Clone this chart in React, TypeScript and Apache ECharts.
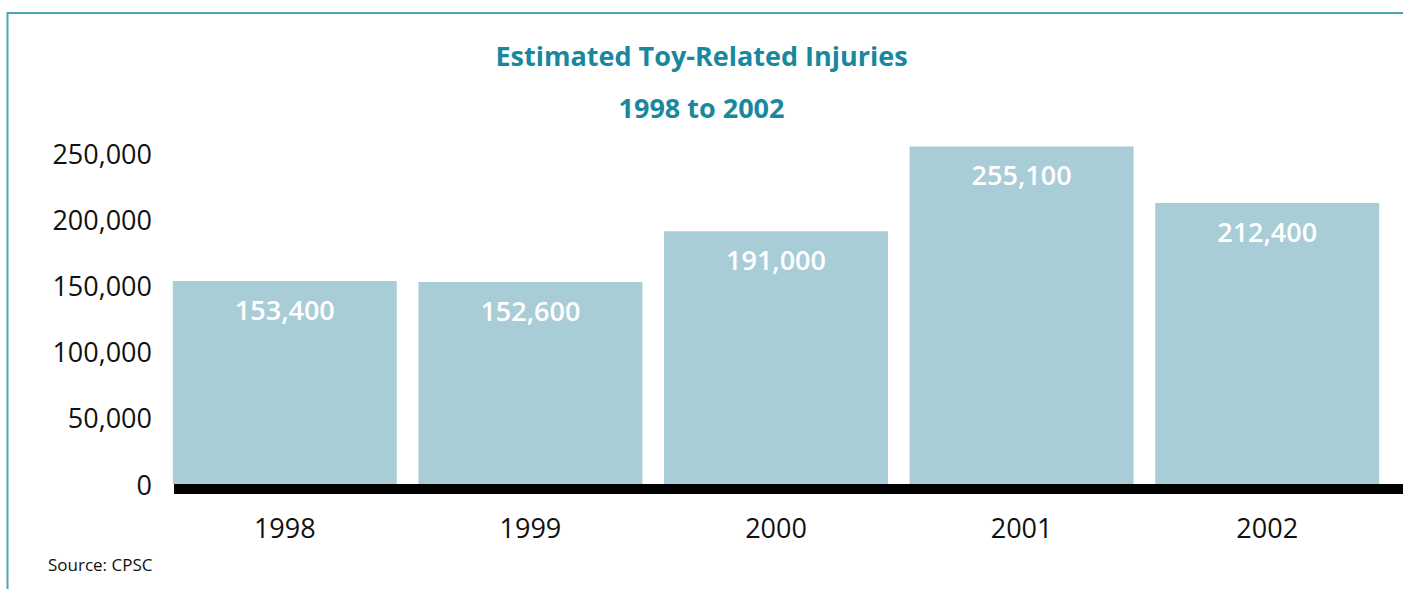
import React, { useEffect, useRef } from "react";
import * as echarts from "echarts";

const categories = ["1998", "1999", "2000", "2001", "2002"];
const injuries = [153400, 152600, 191000, 255100, 212400];
const yTicks = [0, 50000, 100000, 150000, 200000, 250000];
const titleText = "Estimated Toy-Related Injuries";
const subtitleText = "1998 to 2002";
const sourceText = "Source: CPSC";

const FONT = "'Open Sans', 'Noto Sans', sans-serif";
const fmt = (v: number) => v.toLocaleString("en-US");

export default function App() {
  const ref = useRef<HTMLDivElement>(null);
  useEffect(() => {
    document.body.style.margin = "0";
    if (!ref.current) return;
    const chart = echarts.init(ref.current, undefined, { renderer: "svg" });
    chart.setOption({
      animation: false,
      backgroundColor: "#ffffff",
      title: {
        text: titleText + "\n" + subtitleText,
        left: "center",
        top: 24,
        textStyle: {
          fontFamily: FONT,
          fontSize: 27,
          fontWeight: "bold",
          color: "#17889e",
          lineHeight: 52,
        },
      },
      grid: { left: 162, right: 13, top: 87, bottom: 105, containLabel: false },
      xAxis: {
        type: "category",
        data: categories,
        axisLine: { show: false },
        axisTick: { show: false },
        axisLabel: {
          fontFamily: FONT,
          fontSize: 27,
          color: "#111",
          margin: 30,
        },
      },
      yAxis: {
        type: "value",
        min: 0,
        max: 300000,
        interval: 50000,
        splitLine: { show: false },
        axisLine: { show: false },
        axisTick: { show: false },
        axisLabel: {
          fontFamily: FONT,
          fontSize: 27,
          color: "#111",
          margin: 10,
          formatter: (v: number) => (yTicks.includes(v) ? fmt(v) : ""),
        },
      },
      series: [
        {
          type: "bar",
          data: injuries,
          barWidth: 224,
          itemStyle: { color: "#a9cdd6" },
          label: {
            show: true,
            position: "insideTop",
            distance: 15,
            fontFamily: FONT,
            fontSize: 27,
            fontWeight: 600,
            color: "#ffffff",
            formatter: (p: any) => fmt(p.value),
          },
        },
      ],
      graphic: [
        {
          type: "rect",
          shape: { x: 7.5, y: 13, width: 1600, height: 800 },
          style: { fill: "none", stroke: "#4aa6b8", lineWidth: 2 },
          silent: true,
        },
        {
          type: "rect",
          shape: { x: 174, y: 484, width: 1300, height: 10 },
          style: { fill: "#000000" },
          z: 10,
          silent: true,
        },
        {
          type: "text",
          left: 48,
          top: 556,
          style: {
            text: sourceText,
            fontFamily: FONT,
            fontSize: 17,
            fill: "#111",
          },
        },
      ],
    });
    return () => chart.dispose();
  }, []);
  return <div ref={ref} style={{ width: 1403, height: 589 }} />;
}
